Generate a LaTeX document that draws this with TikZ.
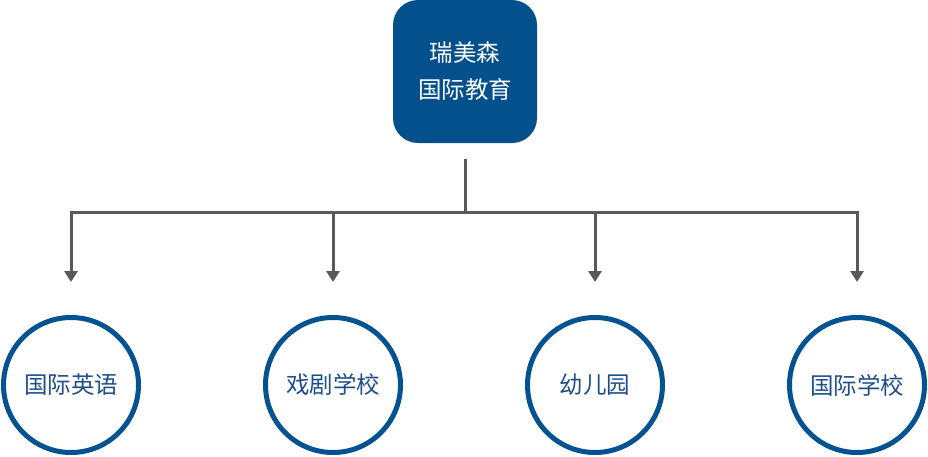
\documentclass[tikz,border=0pt]{standalone}
\usepackage{fontspec}
\setmainfont{Noto Sans CJK SC}
\usetikzlibrary{arrows.meta,positioning}
\definecolor{boxblue}{HTML}{03508C}
\definecolor{ringblue}{HTML}{04528F}
\definecolor{textblue}{HTML}{1E4F8A}
\definecolor{linegray}{HTML}{595959}
\begin{document}
\begin{tikzpicture}[x=1pt,y=-1pt,
	top/.style = {fill=boxblue, rounded corners=25pt, minimum width=144pt, minimum height=143pt, inner sep=0pt, text=white, align=center, font=\fontsize{23.5}{37}\selectfont},
	main/.style = {draw=ringblue, circle, line width=5pt, minimum size=135pt, inner sep=0pt, text=textblue, font=\fontsize{23.5}{28}\selectfont},
	link/.style = {draw=linegray, line width=3pt},
	arr/.style = {link, -{Triangle[width=13pt,length=11pt]}, shorten >=33pt}]
	\useasboundingbox (0,0) rectangle (928,456);
	\node[top] (0) at (465,71.5) {瑞美森\\国际教育};
	\node[main] (1) at (71,385) {国际英语};
	\node[main] (2) at (333,385) {戏剧学校};
	\node[main] (3) at (595,385) {幼儿园};
	\node[main] (4) at (857,385) {国际学校};
	\coordinate (j) at (465,212);
	\draw[link, shorten <=16pt] (0) -- (j);
	\draw[arr] (j) -| (1);
	\draw[arr] (j) -| (2);
	\draw[arr] (j) -| (3);
	\draw[arr] (j) -| (4);
\end{tikzpicture}
\end{document}
